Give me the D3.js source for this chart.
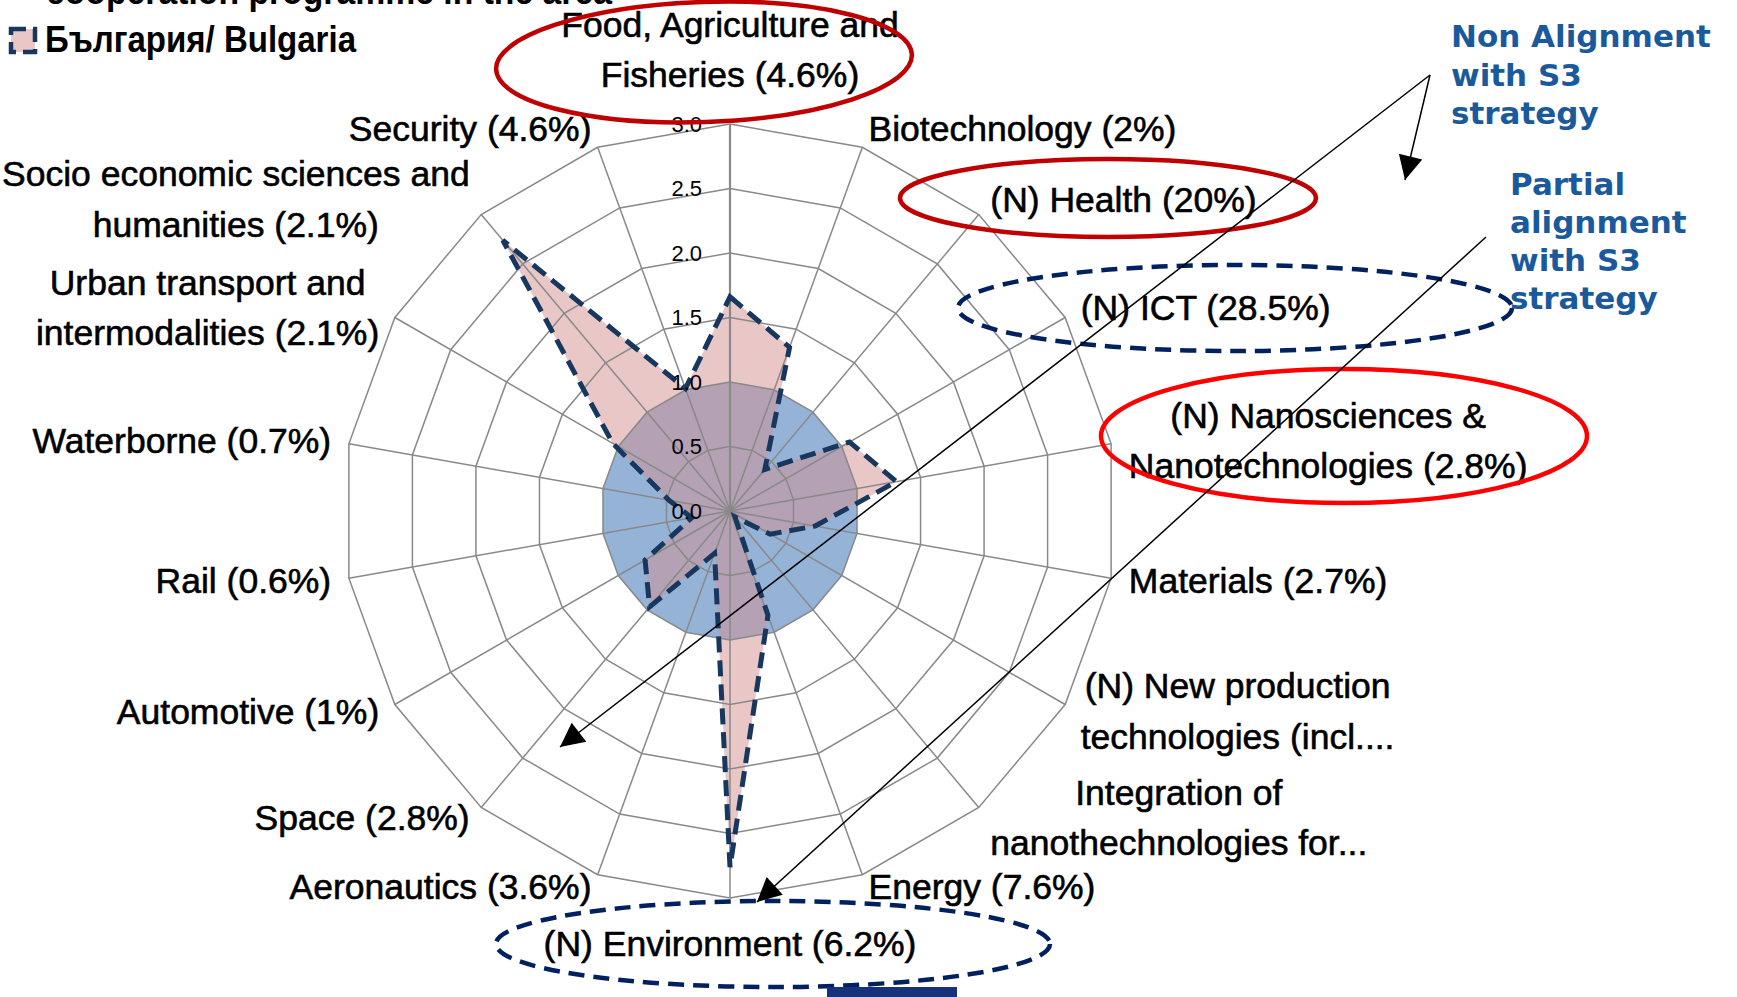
<!DOCTYPE html>
<html>
<head>
<meta charset="utf-8">
<script src="https://cdn.jsdelivr.net/npm/d3@7"></script>
<style>
  html, body { margin: 0; padding: 0; background: #fff; overflow: hidden; }
  svg { display: block; }
  .cat { font-family: "Liberation Sans", Arial, sans-serif; font-size: 35.5px; fill: #000; stroke: #000; stroke-width: 0.6px; }
  .tick { font-family: "Liberation Sans", Arial, sans-serif; font-size: 22px; fill: #000; }
  .narrow { font-family: "Liberation Sans", Arial, sans-serif; font-weight: bold; font-size: 37px; fill: #000; }
  .note { font-family: "DejaVu Sans", Verdana, sans-serif; font-weight: bold; font-size: 31px; fill: #1a5a9c; }
</style>
</head>
<body>
<svg id="chart" width="1737" height="997"></svg>
<script>
// axis categories, clockwise from the top
const categories = [
  'Food, Agriculture and\nFisheries (4.6%)',
  'Biotechnology (2%)',
  '(N) Health (20%)',
  '(N) ICT (28.5%)',
  '(N) Nanosciences &\nNanotechnologies (2.8%)',
  'Materials (2.7%)',
  '(N) New production\ntechnologies (incl....',
  'Integration of\nnanothechnologies for...',
  'Energy (7.6%)',
  '(N) Environment (6.2%)',
  'Aeronautics (3.6%)',
  'Space (2.8%)',
  'Automotive (1%)',
  'Rail (0.6%)',
  'Waterborne (0.7%)',
  'Urban transport and\nintermodalities (2.1%)',
  'Socio economic sciences and\nhumanities (2.1%)',
  'Security (4.6%)'
]
const euValues = [1, 1, 1, 1, 1, 1, 1, 1, 1, 1, 1, 1, 1, 1, 1, 1, 1, 1]
const bulgariaValues = [1.66, 1.35, 0.42, 1.07, 1.31, 0.67, 0.36, 0.06, 0.86, 2.76,
  0.35, 0.97, 0.76, 0.3, 0.48, 1.05, 2.74, 1.01]
const tickValues = [0, 0.5, 1, 1.5, 2, 2.5, 3]
const legendLabel = 'България/ Bulgaria'
const titleTail = 'cooperation programme in the area'
const noteNon = ['Non Alignment', 'with S3', 'strategy']
const notePartial = ['Partial', 'alignment', 'with S3', 'strategy']

const cx = 730
const cy = 511
const R = 387
const n = categories.length
const lineH = 50.5

const svg = d3.select('#chart')
const angle = d3.scaleLinear().domain([0, n]).range([0, 2 * Math.PI])
const r = d3.scaleLinear().domain([0, 3]).range([0, R])

const g = svg.append('g').attr('transform', `translate(${cx},${cy})`)

const radar = d3.lineRadial()
  .angle((d, i) => angle(i))
  .radius(d => r(d))
  .curve(d3.curveLinearClosed)

// filled areas
g.append('path').datum(euValues)
  .attr('d', radar)
  .attr('fill', 'rgb(149,179,215)')

g.append('path').datum(bulgariaValues)
  .attr('d', radar)
  .attr('fill', 'rgb(211,143,143)')
  .attr('fill-opacity', 0.5)

// grid rings and spokes
g.selectAll('.ring').data(tickValues.filter(t => t > 0)).enter()
  .append('path')
  .attr('class', 'ring')
  .attr('d', t => radar(categories.map(() => t)))
  .attr('fill', 'none')
  .attr('stroke', '#898989')
  .attr('stroke-width', 1.5)

g.selectAll('.spoke').data(categories).enter()
  .append('line')
  .attr('class', 'spoke')
  .attr('x1', 0).attr('y1', 0)
  .attr('x2', (d, i) => r(3) * Math.sin(angle(i)))
  .attr('y2', (d, i) => -r(3) * Math.cos(angle(i)))
  .attr('stroke', '#898989')
  .attr('stroke-width', (d, i) => i === 0 ? 2.2 : 1.5)

// Bulgaria outline
g.append('path').datum(bulgariaValues)
  .attr('d', radar)
  .attr('fill', 'none')
  .attr('stroke', '#17375e')
  .attr('stroke-width', 5)
  .attr('stroke-dasharray', '16,8')

// tick labels on the vertical axis
g.selectAll('.tick').data(tickValues).enter()
  .append('text')
  .attr('class', 'tick')
  .attr('x', -28)
  .attr('y', t => -r(t))
  .attr('dy', '0.36em')
  .attr('text-anchor', 'end')
  .text(d3.format('.1f'))

// category labels
const labelG = svg.append('g')
categories.forEach((label, i) => {
  const lines = label.split('\n')
  const a = angle(i)
  const sx = Math.sin(a)
  const ca = Math.cos(a)
  const ex = cx + R * sx
  const ey = cy - R * ca
  const t = labelG.append('text').attr('class', 'cat').attr('text-anchor', 'middle')
  const spans = lines.map(ln => t.append('tspan').text(ln))
  const w = d3.max(spans, s => s.node().getComputedTextLength())
  const h = lines.length * lineH
  let bx, by
  if (Math.abs(sx) < 1e-6) {
    bx = ex
    by = ca > 0 ? ey - 24 - h / 2 : ey + 20 + h / 2
  } else {
    const gap = 18 * Math.abs(sx)
    bx = sx > 0 ? ex + gap + w / 2 : ex - gap - w / 2
    by = ey - (ca > 0 ? 20 : 13) * ca
  }
  spans.forEach((s, j) => {
    s.attr('x', bx).attr('y', by - h / 2 + lineH * (j + 0.5) + 12.5)
  })
})

// legend and cut title
svg.append('text').attr('class', 'narrow')
  .attr('x', 46).attr('y', 4)
  .attr('textLength', 566).attr('lengthAdjust', 'spacingAndGlyphs')
  .text(titleTail)
svg.append('rect')
  .attr('x', 11).attr('y', 29).attr('width', 24).attr('height', 23)
  .attr('fill', 'rgb(233,199,199)')
  .attr('stroke', '#17375e').attr('stroke-width', 4.5)
  .attr('stroke-dasharray', '15,7')
svg.append('text').attr('class', 'narrow')
  .attr('x', 45).attr('y', 52)
  .attr('textLength', 311).attr('lengthAdjust', 'spacingAndGlyphs')
  .text(legendLabel)

// annotation ellipses
const ellipses = [
  { cx: 704, cy: 62, rx: 208, ry: 60, color: '#c00000', dash: null, rot: -2 },
  { cx: 1108, cy: 198, rx: 208, ry: 39, color: '#c00000', dash: null, rot: 0 },
  { cx: 1235, cy: 308, rx: 277, ry: 43, color: '#002060', dash: '16,9', rot: 0 },
  { cx: 1344, cy: 436, rx: 243, ry: 67, color: '#ff0000', dash: null, rot: 0 },
  { cx: 773, cy: 944, rx: 277, ry: 43, color: '#002060', dash: '16,9', rot: 0 }
]
svg.selectAll('.ell').data(ellipses).enter()
  .append('ellipse')
  .attr('class', 'ell')
  .attr('transform', d => `rotate(${d.rot},${d.cx},${d.cy})`)
  .attr('cx', d => d.cx).attr('cy', d => d.cy)
  .attr('rx', d => d.rx).attr('ry', d => d.ry)
  .attr('fill', 'none')
  .attr('stroke', d => d.color)
  .attr('stroke-width', 4.5)
  .attr('stroke-dasharray', d => d.dash)

// arrows
svg.append('defs').append('marker')
  .attr('id', 'head')
  .attr('viewBox', '0 0 10 10')
  .attr('refX', 10).attr('refY', 5)
  .attr('markerUnits', 'userSpaceOnUse')
  .attr('markerWidth', 32).attr('markerHeight', 24)
  .attr('orient', 'auto')
  .append('path').attr('d', 'M0,0L10,5L0,10Z').attr('fill', '#000')

const arrows = [
  [1430, 75, 560, 747],
  [1430, 75, 1405, 180],
  [1486, 237, 757, 902]
]
svg.selectAll('.arrow').data(arrows).enter()
  .append('line')
  .attr('class', 'arrow')
  .attr('x1', d => d[0]).attr('y1', d => d[1])
  .attr('x2', d => d[2]).attr('y2', d => d[3])
  .attr('stroke', '#000').attr('stroke-width', 1.5)
  .attr('marker-end', 'url(#head)')

// blue notes
const noteA = svg.append('text').attr('class', 'note')
noteNon.forEach((ln, j) => noteA.append('tspan').attr('x', 1451).attr('y', 47 + 38.5 * j).text(ln))
const noteB = svg.append('text').attr('class', 'note')
notePartial.forEach((ln, j) => noteB.append('tspan').attr('x', 1510).attr('y', 195 + 38 * j).text(ln))

// bar stub at the bottom edge
svg.append('rect').attr('x', 827).attr('y', 987).attr('width', 130).attr('height', 10).attr('fill', '#17327a')
</script>
</body>
</html>
